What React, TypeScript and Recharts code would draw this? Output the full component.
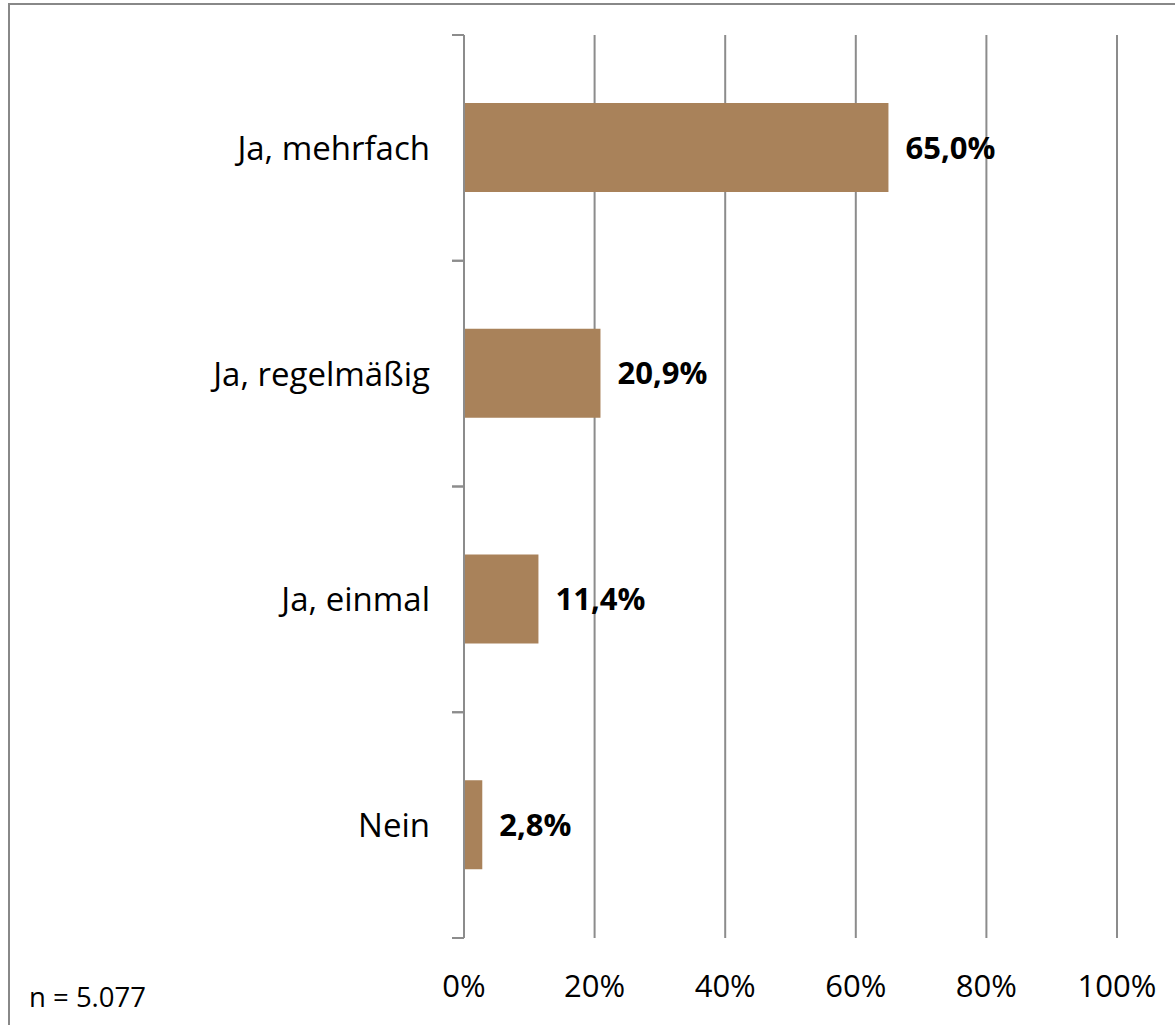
import { BarChart, Bar, XAxis, YAxis, CartesianGrid, LabelList } from 'recharts';

const categories = ['Ja, mehrfach', 'Ja, regelmäßig', 'Ja, einmal', 'Nein'];
const shares = [65.0, 20.9, 11.4, 2.8];
const xTicks = [0, 20, 40, 60, 80, 100];
const bandTicks = [0, 1, 2, 3, 4];
const sampleNote = 'n = 5.077';

const data = categories.map((name, i) => ({ name, value: shares[i] }));

const GRID = '#8c8c8c';
const BAR = '#a9825a';
const FONT = '"Open Sans", sans-serif';

const fmt = (v: number) => `${v.toFixed(1).replace('.', ',')}%`;

// category label plus a small tick mark at each band edge
function CatTick(props: any) {
  const { x, y, payload } = props;
  const half = payload && typeof payload.offset === 'number' ? payload.offset : 0;
  return (
    <g>
      <text x={x} y={y} dy="0.36em" textAnchor="end" fill="#000" fontSize={33} fontFamily={FONT}>
        {payload.value}
      </text>
      {half > 0 && (
        <>
          <line x1={x + 22} x2={x + 34} y1={y - half} y2={y - half} stroke={GRID} strokeWidth={2} />
          <line x1={x + 22} x2={x + 34} y1={y + half} y2={y + half} stroke={GRID} strokeWidth={2} />
        </>
      )}
    </g>
  );
}

export default function App() {
  return (
    <div style={{ position: 'absolute', left: 0, top: 0, width: 1175, height: 1025, overflow: 'hidden', background: '#fff' }}>
      <div
        style={{
          position: 'absolute',
          left: 8,
          top: 3,
          width: 1180,
          height: 1040,
          border: '2px solid #888',
          boxSizing: 'border-box',
        }}
      />
      <div style={{ position: 'absolute', left: 0, top: 0 }}>
        <BarChart
          width={1175}
          height={1025}
          data={data}
          layout="vertical"
          margin={{ top: 35, right: 58, left: 0, bottom: 27 }}
          barCategoryGap="30%"
        >
          <CartesianGrid horizontal={false} stroke={GRID} strokeWidth={2} yAxisId="cat" />
          <XAxis
            type="number"
            domain={[0, 100]}
            ticks={xTicks}
            tickFormatter={(v) => `${v}%`}
            axisLine={false}
            tickLine={false}
            tickSize={0}
            tickMargin={37}
            height={60}
            tick={{ fill: '#000', fontSize: 31, fontFamily: FONT }}
          />
          <YAxis
            yAxisId="bnd"
            type="number"
            domain={[0, 4]}
            allowDataOverflow
            ticks={bandTicks}
            width={12}
            tickSize={12}
            tick={false}
            axisLine={{ stroke: GRID, strokeWidth: 2 }}
            tickLine={{ stroke: GRID, strokeWidth: 2 }}
          />
          <YAxis
            yAxisId="cat"
            type="category"
            dataKey="name"
            width={452}
            axisLine={false}
            tickLine={false}
            tickSize={0}
            tickMargin={22}
            tick={<CatTick />}
          />
          <Bar dataKey="value" yAxisId="cat" fill={BAR} barSize={89} isAnimationActive={false}>
            <LabelList
              dataKey="value"
              position="right"
              offset={17}
              formatter={(v: any) => fmt(Number(v))}
              style={{ fill: '#000', fontSize: 31, fontWeight: 700, fontFamily: FONT }}
            />
          </Bar>
        </BarChart>
      </div>
      <svg style={{ position: 'absolute', left: 0, top: 0 }} width={300} height={1025}>
        <text x={29} y={1007} fontSize={27.5} fontFamily={FONT} fill="#000">
          {sampleNote}
        </text>
      </svg>
    </div>
  );
}
